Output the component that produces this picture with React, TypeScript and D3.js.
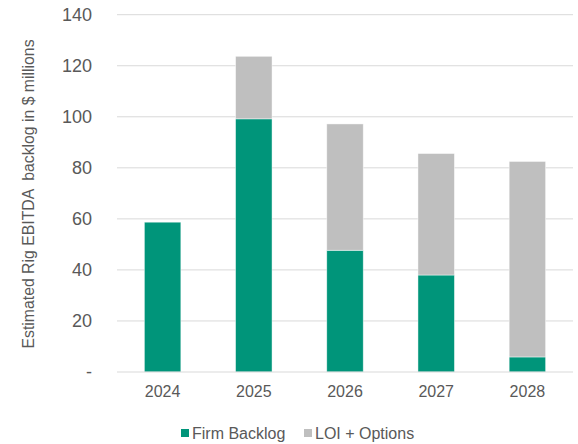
import React from "react";
import * as d3 from "d3";

const years = ["2024", "2025", "2026", "2027", "2028"];
const firmBacklog = [58.7, 99.2, 47.7, 38.0, 5.9];
const loiOptions = [0, 24.5, 49.5, 47.6, 76.6];
const yTicks = [0, 20, 40, 60, 80, 100, 120, 140];
const seriesNames = ["Firm Backlog", "LOI + Options"];
const colors = ["#00957A", "#BFBFBF"];

const W = 578;
const H = 444;
const left = 117;
const right = 573;
const top = 14.7;
const bottom = 372;

export default function App() {
  const x = d3.scaleBand().domain(years).range([left, right]).paddingInner(0.6).paddingOuter(0.3);
  const y = d3.scaleLinear().domain([0, 140]).range([bottom, top]);
  const rows = years.map((yr, i) => ({ year: yr, firm: firmBacklog[i], loi: loiOptions[i] }));
  const stack = d3.stack<any>().keys(["firm", "loi"])(rows);
  const font = "'Liberation Sans', Arial, sans-serif";
  return (
    <svg width={W} height={H} style={{ position: "absolute", left: 0, top: 0 }} fontFamily={font}>
      <rect width={W} height={H} fill="#fff" />
      {yTicks.map((t) => (
        <g key={t}>
          {t > 0 && <line x1={left} x2={right} y1={y(t)} y2={y(t)} stroke="#D9D9D9" strokeWidth={1} />}
          <text x={92} y={y(t)} dy="0.35em" textAnchor="end" fontSize={18} fill="#595959">
            {t === 0 ? "-" : t}
          </text>
        </g>
      ))}
      {stack.map((s, si) =>
        s.map((d, i) =>
          d[1] - d[0] > 0 ? (
            <rect
              key={si + "-" + i}
              x={x(years[i])}
              width={x.bandwidth()}
              y={y(d[1])}
              height={y(d[0]) - y(d[1])}
              fill={colors[si]}
              stroke="#ffffff"
              strokeOpacity={0.6}
              strokeWidth={0.75}
            />
          ) : null
        )
      )}
      <line x1={left} x2={right} y1={bottom} y2={bottom} stroke="#D9D9D9" strokeWidth={1} />
      {years.map((yr) => (
        <text key={yr} x={(x(yr) as number) + x.bandwidth() / 2} y={396.5} textAnchor="middle" fontSize={16} fill="#595959">
          {yr}
        </text>
      ))}
      <text
        transform={`translate(34,194) rotate(-90)`}
        textAnchor="middle"
        fontSize={15.8}
        fill="#595959"
        style={{ whiteSpace: "pre" }}
      >
        {"Estimated Rig EBITDA  backlog in $ millions"}
      </text>
      <g>
        <rect x={181} y={429} width={8} height={8} fill={colors[0]} />
        <text x={192} y={439} fontSize={16} fill="#595959">{seriesNames[0]}</text>
        <rect x={304} y={429} width={8} height={8} fill={colors[1]} />
        <text x={315} y={439} fontSize={16} fill="#595959">{seriesNames[1]}</text>
      </g>
    </svg>
  );
}
